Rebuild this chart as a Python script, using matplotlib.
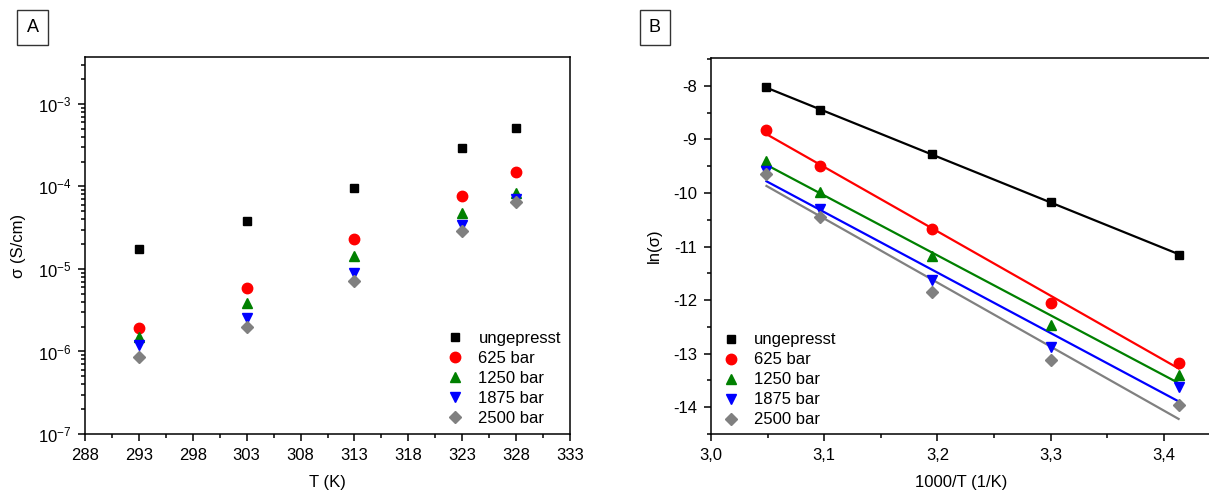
import numpy as np
import matplotlib
matplotlib.use("Agg")
import matplotlib.pyplot as plt
from matplotlib.ticker import FixedLocator, FuncFormatter, MultipleLocator, LogLocator, NullFormatter

plt.rcParams['font.family'] = ['Liberation Sans', 'DejaVu Sans']
plt.rcParams['axes.unicode_minus'] = False
plt.rcParams['mathtext.fontset'] = 'custom'
plt.rcParams['mathtext.rm'] = 'Liberation Sans'
plt.rcParams['mathtext.it'] = 'Liberation Sans'
plt.rcParams['mathtext.default'] = 'regular'

# ---- data ----
series = ["ungepresst", "625 bar", "1250 bar", "1875 bar", "2500 bar"]
colors = ["#000000", "#ff0000", "#008000", "#0000ff", "#808080"]
markers = ["s", "o", "^", "v", "D"]
msizes = [6, 7.5, 7.5, 7.5, 6]

T = [293, 303, 313, 323, 328]
T_ticks = [288, 293, 298, 303, 308, 313, 318, 323, 328, 333]
sigma_ung = [1.75e-5, 3.85e-5, 9.7e-5, 2.9e-4, 5.07e-4]
sigma_625 = [1.9e-6, 5.8e-6, 2.31e-5, 7.6e-5, 1.48e-4]
sigma_1250 = [1.48e-6, 3.84e-6, 1.44e-5, 4.7e-5, 8.3e-5]
sigma_1875 = [1.2e-6, 2.57e-6, 8.9e-6, 3.4e-5, 7.1e-5]
sigma_2500 = [8.65e-7, 2.0e-6, 7.2e-6, 2.92e-5, 6.4e-5]

invT = [3.049, 3.096, 3.195, 3.300, 3.413]
ln_ung = [-8.03, -8.45, -9.27, -10.17, -11.15]
ln_625 = [-8.83, -9.49, -10.67, -12.06, -13.17]
ln_1250 = [-9.40, -9.98, -11.17, -12.47, -13.40]
ln_1875 = [-9.59, -10.30, -11.63, -12.88, -13.63]
ln_2500 = [-9.65, -10.44, -11.84, -13.11, -13.96]

sigmas = [sigma_ung, sigma_625, sigma_1250, sigma_1875, sigma_2500]
lns = [ln_ung, ln_625, ln_1250, ln_1875, ln_2500]

W, H = 1209, 492
fig = plt.figure(figsize=(W / 100, H / 100), dpi=100)

def rect(l, t, r, b):
    return [l / W, 1 - b / H, (r - l) / W, (b - t) / H]

FS = 12
axA = fig.add_axes(rect(85, 57, 570, 434))
axB = fig.add_axes(rect(711, 58, 1212, 434))

for ax in (axA, axB):
    for s in ax.spines.values():
        s.set_linewidth(1.1)
    ax.tick_params(which='both', direction='out', top=False, right=False,
                   labelsize=FS, width=1.1)
    ax.tick_params(which='major', length=5, pad=5)
    ax.tick_params(which='minor', length=3)

# ---- panel A ----
for s, c, m, ms, lab in zip(sigmas, colors, markers, msizes, series):
    axA.plot(T, s, linestyle='none', marker=m, color=c, markersize=ms, label=lab)
axA.set_yscale('log')
axA.set_ylim(1e-7, 3.7e-3)
axA.set_xlim(288, 333)
axA.xaxis.set_major_locator(FixedLocator(T_ticks))
axA.xaxis.set_minor_locator(FixedLocator([t + 2.5 for t in T_ticks[:-1]]))
axA.yaxis.set_major_locator(LogLocator(base=10, numticks=10))
axA.yaxis.set_minor_locator(LogLocator(base=10, subs=np.arange(2, 10), numticks=20))
axA.yaxis.set_minor_formatter(NullFormatter())
axA.yaxis.set_major_formatter(FuncFormatter(lambda v, p: r'$10^{%d}$' % int(round(np.log10(v)))))
axA.set_xlabel("T (K)", fontsize=FS, labelpad=9)
axA.set_ylabel("σ (S/cm)", fontsize=FS, labelpad=8)
axA.legend(loc='lower right', bbox_to_anchor=(0.995, 0.004), frameon=False, fontsize=FS,
           handletextpad=0.8, labelspacing=0.3, borderaxespad=0.0, handlelength=1.2)

# ---- panel B ----
for y, c, m, ms, lab in zip(lns, colors, markers, msizes, series):
    axB.plot(invT, y, linestyle='none', marker=m, color=c, markersize=ms, label=lab)
    k, d = np.polyfit(invT, y, 1)
    xx = np.array([invT[0], invT[-1]])
    axB.plot(xx, k * xx + d, color=c, linewidth=1.6, zorder=1)
axB.set_xlim(3.0, 3.4425)
axB.set_ylim(-14.5, -7.48)
axB.xaxis.set_major_locator(MultipleLocator(0.1))
axB.xaxis.set_minor_locator(MultipleLocator(0.05))
axB.yaxis.set_major_locator(MultipleLocator(1))
axB.yaxis.set_minor_locator(MultipleLocator(0.5))
axB.xaxis.set_major_formatter(FuncFormatter(lambda v, p: ("%.1f" % v).replace('.', ',')))
axB.yaxis.set_major_formatter(FuncFormatter(lambda v, p: "%d" % int(round(v))))
axB.set_xlabel("1000/T (1/K)", fontsize=FS, labelpad=9)
axB.set_ylabel("ln(σ)", fontsize=FS, labelpad=8)
axB.legend(loc='lower left', bbox_to_anchor=(0.006, 0.0), frameon=False, fontsize=FS,
           handletextpad=0.8, labelspacing=0.3, borderaxespad=0.0, handlelength=1.2)

# ---- panel letters ----
for txt, x0, x1 in (("A", 17, 48), ("B", 639, 671)):
    fig.text((x0 + x1) / 2 / W, 1 - 27.5 / H, txt, ha='center', va='center', fontsize=13,
             bbox=dict(boxstyle='square,pad=0.5', fc='white', ec='#333333', lw=1.0))

fig.savefig("out.png", dpi=100)
